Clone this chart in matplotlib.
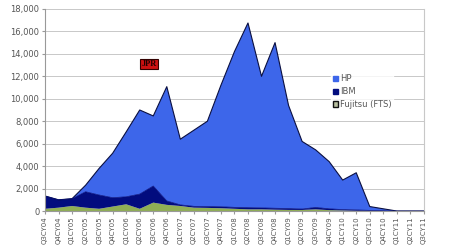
import numpy as np
import matplotlib.pyplot as plt
from matplotlib.patches import Patch

# Quartale
quarters = ['Q3CY04', 'Q4CY04',
            'Q1CY05', 'Q2CY05', 'Q3CY05', 'Q4CY05',
            'Q1CY06', 'Q2CY06', 'Q3CY06', 'Q4CY06',
            'Q1CY07', 'Q2CY07', 'Q3CY07', 'Q4CY07',
            'Q1CY08', 'Q2CY08', 'Q3CY08', 'Q4CY08',
            'Q1CY09', 'Q2CY09', 'Q3CY09', 'Q4CY09',
            'Q1CY10', 'Q2CY10', 'Q3CY10', 'Q4CY10',
            'Q1CY11', 'Q2CY11', 'Q3CY11']

# Werte pro Hersteller (gestapelt)
fujitsu = [200, 300, 450, 300, 200, 400, 600, 200, 750, 550, 450, 300, 280, 250,
           200, 150, 150, 120, 100, 100, 150, 80, 50, 30, 20, 10, 0, 0, 0]
ibm = [1140, 700, 650, 1420, 1230, 790, 670, 1310, 1480, 350, 100, 120, 120, 130,
       130, 150, 130, 130, 120, 80, 170, 120, 80, 70, 40, 20, 0, 0, 0]
hp = [0, 0, 0, 580, 2370, 3960, 5780, 7490, 6240, 10180, 5850, 6780, 7600, 10820,
      13870, 16450, 11720, 14750, 9180, 6020, 5130, 4200, 2630, 3310, 340, 170, 0, 0, 0]

yticks = [0, 2000, 4000, 6000, 8000, 10000, 12000, 14000, 16000, 18000]

c_hp = '#3d66ea'
c_ibm = '#020c7e'
c_fts = '#8fae55'

fig = plt.figure(figsize=(4.5, 2.48), dpi=100)
ax = fig.add_axes([0.1, 0.149, 0.842, 0.815])

x = np.arange(len(quarters))
ax.stackplot(x, fujitsu, ibm, hp, colors=[c_fts, c_ibm, c_hp], linewidth=0)
total = np.array(fujitsu) + np.array(ibm) + np.array(hp)
ax.plot(x, total, color='#0a0f40', lw=0.8)
ax.plot(x, np.array(fujitsu) + np.array(ibm), color=c_ibm, lw=0.5)

ax.set_xlim(0, len(quarters) - 1)
ax.set_ylim(0, 18000)
ax.set_yticks(yticks)
ax.set_yticklabels([f'{v:,}' for v in yticks], fontsize=6, color='#555555')
ax.set_xticks(x)
ax.set_xticklabels(quarters, rotation=90, fontsize=5, color='#555555')
ax.tick_params(axis='both', length=2, color='#999999', pad=2)
ax.grid(True, axis='y', color='#c8c8c8', lw=0.7)
ax.set_axisbelow(True)
ax.spines['top'].set_visible(False)
ax.spines['right'].set_color('#c8c8c8')
ax.spines['left'].set_color('#999999')
ax.spines['bottom'].set_color('#999999')

handles = [Patch(facecolor=c_hp, edgecolor=c_hp),
           Patch(facecolor=c_ibm, edgecolor=c_ibm),
           Patch(facecolor='#b8c0a0', edgecolor='#111111', lw=1.0)]
leg = ax.legend(handles, ['HP', 'IBM', 'Fujitsu (FTS)'], loc='upper left',
                bbox_to_anchor=(0.745, 0.705), fontsize=6, frameon=True,
                handlelength=0.6, handleheight=0.6, handletextpad=0.2,
                labelspacing=0.45, borderpad=0.2, labelcolor='#555555')
leg.get_frame().set_facecolor('white')
leg.get_frame().set_edgecolor('white')

# Logo
ax.text(7.7, 13100, 'JPR', fontsize=6, fontweight='bold', color='#220000',
        family='Liberation Serif', ha='center', va='center',
        bbox=dict(boxstyle='square,pad=0.15', facecolor='#cc1111',
                  edgecolor='#330000', lw=0.8))

fig.savefig('out.png', dpi=100)
